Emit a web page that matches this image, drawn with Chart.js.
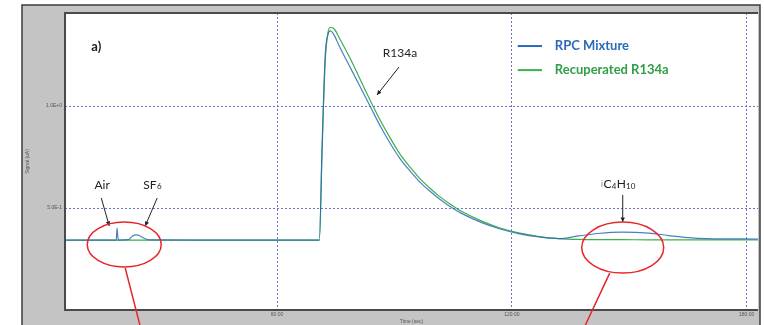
<!DOCTYPE html>
<html>
<head>
<meta charset="utf-8">
<script src="https://cdn.jsdelivr.net/npm/chart.js@4"></script>
<style>
html, body { margin: 0; padding: 0; background: #fff; }
</style>
</head>
<body>
<canvas id="gasChart" width="764" height="325"></canvas>
<script>
// time (sec) and signal values
const times = [5.8, 18.9, 19.1, 19.4, 22, 23, 24, 25, 26, 27.5, 40, 60, 70.8, 71.5, 72.3, 73, 73.6, 74.5,
    76, 78.5, 81, 84, 86.5, 89, 91.5, 94, 96.5, 99, 101.5, 104, 107, 112, 117, 122, 127, 132,
    137, 142, 148, 155, 160, 165, 170, 182.9];
const rpcMixture = [0.343, 0.343, 0.402, 0.343, 0.345, 0.362, 0.368, 0.363, 0.352, 0.344, 0.343, 0.343, 0.343, 0.80, 1.25, 1.35, 1.368, 1.35,
    1.289, 1.196, 1.103, 0.990, 0.897, 0.814, 0.740, 0.681, 0.627, 0.583, 0.544, 0.510, 0.475, 0.431, 0.397, 0.373, 0.358, 0.350,
    0.363, 0.375, 0.382, 0.377, 0.365, 0.355, 0.350, 0.348];
const recuperated = [0.343, 0.343, 0.343, 0.343, 0.343, 0.343, 0.343, 0.343, 0.343, 0.343, 0.343, 0.343, 0.343, 0.78, 1.22, 1.36, 1.385, 1.38,
    1.33, 1.24, 1.14, 1.02, 0.925, 0.84, 0.762, 0.70, 0.644, 0.598, 0.557, 0.522, 0.485, 0.438, 0.402, 0.377, 0.360, 0.350,
    0.346, 0.345, 0.345, 0.344, 0.344, 0.344, 0.344, 0.344];
const xTicks = [60, 120, 180];
const xTickLabels = ["60:00", "120:00", "180:00"];
const yTicks = [0.5, 1.0];
const yTickLabels = ["5.0E-1", "1.0E+0"];

const blue = "rgba(42, 106, 184, 0.85)";
const green = "#3fae4a";
const red = "#e8262a";
const font = "Lato, 'Open Sans', sans-serif";

function arrow(ctx, x1, y1, x2, y2) {
    ctx.beginPath();
    ctx.moveTo(x1, y1);
    ctx.lineTo(x2, y2);
    ctx.stroke();
    const a = Math.atan2(y2 - y1, x2 - x1);
    ctx.beginPath();
    ctx.moveTo(x2, y2);
    ctx.lineTo(x2 - 5 * Math.cos(a - 0.45), y2 - 5 * Math.sin(a - 0.45));
    ctx.lineTo(x2 - 5 * Math.cos(a + 0.45), y2 - 5 * Math.sin(a + 0.45));
    ctx.closePath();
    ctx.fill();
}

const framePlugin = {
    id: "frame",
    beforeDraw(chart) {
        const ctx = chart.ctx;
        const a = chart.chartArea;
        ctx.save();
        ctx.fillStyle = "#c4c4c4";
        ctx.fillRect(22, 5, 738, 320);
        ctx.strokeStyle = "#3c3c3c";
        ctx.lineWidth = 1.5;
        ctx.beginPath();
        ctx.moveTo(22, 325); ctx.lineTo(22, 5); ctx.lineTo(760, 5); ctx.lineTo(760, 325);
        ctx.stroke();
        ctx.fillStyle = "#fff";
        ctx.fillRect(a.left, a.top, a.right - a.left, a.bottom - a.top);
        ctx.restore();
    },
    afterDraw(chart) {
        const ctx = chart.ctx;
        const a = chart.chartArea;
        const x = chart.scales.x, y = chart.scales.y;
        const px = t => x.getPixelForValue(t);
        const py = v => y.getPixelForValue(v);
        ctx.save();
        // plot border
        ctx.strokeStyle = "#4a4a4a";
        ctx.lineWidth = 2;
        ctx.beginPath();
        ctx.moveTo(a.right, a.top); ctx.lineTo(a.left, a.top); ctx.lineTo(a.left, a.bottom); ctx.lineTo(a.right, a.bottom);
        ctx.stroke();

        // labels
        ctx.fillStyle = "#222";
        ctx.textBaseline = "middle";
        ctx.textAlign = "center";
        ctx.font = "bold 13px " + font;
        ctx.fillText("a)", px(13.8), py(1.289));
        ctx.font = "12px " + font;
        ctx.fillText("R134a", px(91.4), py(1.26));
        ctx.fillText("Air", px(15.3), py(0.613));

        ctx.textAlign = "left";
        let sx = px(25.8);
        ctx.fillText("SF", sx, py(0.613));
        sx += ctx.measureText("SF").width;
        ctx.font = "8px " + font;
        ctx.fillText("6", sx + 0.5, py(0.605));

        const parts = [["i", 10, "#999"], ["C", 12, "#222"], ["4", 8, "#222"], ["H", 12, "#222"], ["10", 8, "#222"]];
        let cx = px(142.7);
        parts.forEach(p => {
            ctx.font = p[1] + "px " + font;
            ctx.fillStyle = p[2];
            ctx.fillText(p[0], cx, py(p[1] === 8 ? 0.608 : 0.618));
            cx += ctx.measureText(p[0]).width + 0.3;
        });

        // arrows
        ctx.strokeStyle = "#222";
        ctx.fillStyle = "#222";
        ctx.lineWidth = 1;
        arrow(ctx, px(91.15), py(1.191), px(85.53), py(1.054));
        arrow(ctx, px(15.07), py(0.549), px(17.11), py(0.412));
        arrow(ctx, px(29.36), py(0.549), px(26.3), py(0.412));
        arrow(ctx, px(148.33), py(0.564), px(148.33), py(0.431));

        // red ellipses and leader lines
        ctx.strokeStyle = red;
        ctx.lineWidth = 1.5;
        ctx.beginPath();
        ctx.ellipse(px(20.94), py(0.321), 37, 22.5, 0, 0, Math.PI * 2);
        ctx.stroke();
        ctx.beginPath();
        ctx.ellipse(px(148.33), py(0.306), 41, 25.5, 0, 0, Math.PI * 2);
        ctx.stroke();
        ctx.beginPath();
        ctx.moveTo(px(21.19), py(0.206)); ctx.lineTo(px(25.02), py(-0.08));
        ctx.moveTo(px(145.01), py(0.181)); ctx.lineTo(px(138.63), py(-0.08));
        ctx.stroke();

        // legend
        ctx.lineWidth = 2;
        ctx.strokeStyle = "#2a6ab8";
        ctx.beginPath(); ctx.moveTo(px(121.5), py(1.294)); ctx.lineTo(px(127.7), py(1.294)); ctx.stroke();
        ctx.strokeStyle = green;
        ctx.beginPath(); ctx.moveTo(px(121.5), py(1.176)); ctx.lineTo(px(127.7), py(1.176)); ctx.stroke();
        ctx.font = "bold 13px " + font;
        ctx.fillStyle = "#2a6ab8";
        ctx.fillText("RPC Mixture", px(130.97), py(1.294));
        ctx.fillStyle = "#2f9f45";
        ctx.fillText("Recuperated R134a", px(130.97), py(1.176));
        ctx.restore();
    }
};

const gridColor = "#6f6fcc";

new Chart(document.getElementById("gasChart"), {
    type: "line",
    data: {
        datasets: [{
            label: "RPC Mixture",
            data: times.map((t, i) => ({ x: t, y: rpcMixture[i] })),
            borderColor: blue,
            borderWidth: 1.2,
            pointRadius: 0,
            cubicInterpolationMode: "monotone"
        }, {
            label: "Recuperated R134a",
            data: times.map((t, i) => ({ x: t, y: recuperated[i] })),
            borderColor: green,
            borderWidth: 1.2,
            pointRadius: 0,
            cubicInterpolationMode: "monotone"
        }]
    },
    options: {
        responsive: false,
        animation: false,
        layout: { padding: { left: 22, top: 13, right: 6, bottom: 0 } },
        plugins: { legend: { display: false }, tooltip: { enabled: false } },
        scales: {
            x: {
                type: "linear",
                min: 5.8,
                max: 182.9,
                afterBuildTicks: s => { s.ticks = xTicks.map(v => ({ value: v })); },
                afterFit: s => { s.height = 15; },
                ticks: {
                    autoSkip: false,
                    maxRotation: 0,
                    padding: 2,
                    font: { size: 5 },
                    color: "#555",
                    callback: v => xTickLabels[xTicks.indexOf(v)]
                },
                grid: { color: gridColor, drawTicks: false },
                border: { display: false, dash: [2, 2] },
                title: { display: true, text: "Time (sec)", font: { size: 5 }, color: "#555", padding: 0 }
            },
            y: {
                min: 0,
                max: 1.456,
                afterBuildTicks: s => { s.ticks = yTicks.map(v => ({ value: v })); },
                afterFit: s => { s.width = 43; },
                ticks: {
                    padding: 3,
                    font: { size: 5 },
                    color: "#555",
                    callback: v => yTickLabels[yTicks.indexOf(v)]
                },
                grid: { color: gridColor, drawTicks: false },
                border: { display: false, dash: [2, 2] },
                title: { display: true, text: "Signal (uA)", font: { size: 5 }, color: "#555", padding: 3 }
            }
        }
    },
    plugins: [framePlugin]
});
</script>
</body>
</html>
